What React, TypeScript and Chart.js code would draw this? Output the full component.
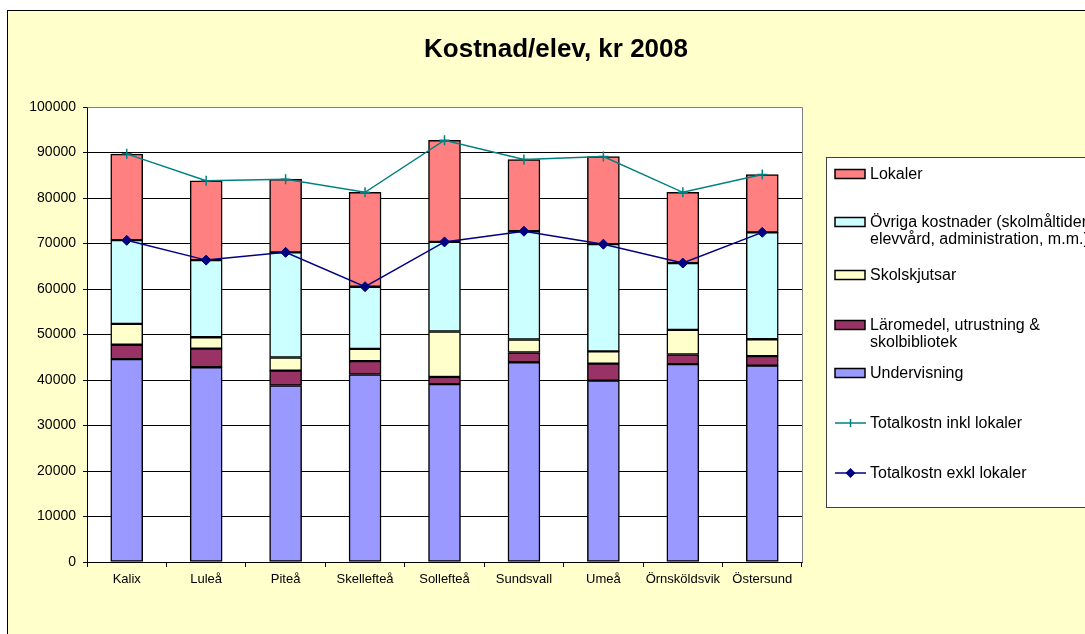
import React, { useEffect, useRef } from "react";
import { Chart, registerables } from "chart.js";

Chart.register(...registerables);

const FONT = "Arial, 'Liberation Sans', sans-serif";

const titleText = "Kostnad/elev, kr 2008";
const categories = ["Kalix", "Luleå", "Piteå", "Skellefteå", "Sollefteå", "Sundsvall", "Umeå", "Örnsköldsvik", "Östersund"];
const undervisning = [44600, 42800, 38800, 41200, 39100, 43900, 39850, 43500, 43150];
const laromedel = [3150, 4100, 3250, 2950, 1550, 2150, 3750, 2100, 2100];
const skolskjutsar = [4600, 2500, 2900, 2700, 10000, 2850, 2700, 5400, 3700];
const ovriga = [18400, 16950, 23100, 13650, 19700, 23800, 23550, 14700, 23500];
const lokaler = [18900, 17450, 16050, 20750, 22350, 15750, 19250, 15550, 12700];
const totalInkl = [89700, 83800, 84100, 81250, 92700, 88450, 89100, 81250, 85150];
const totalExkl = [70700, 66350, 68050, 60500, 70350, 72700, 69850, 65700, 72450];
const yMin = 0;
const yMax = 100000;
const yStep = 10000;

const labelLokaler = ["Lokaler"];
const labelOvriga = ["Övriga kostnader (skolmåltider,", "elevvård, administration, m.m.)"];
const labelSkolskjutsar = ["Skolskjutsar"];
const labelLaromedel = ["Läromedel, utrustning &", "skolbibliotek"];
const labelUndervisning = ["Undervisning"];
const labelInkl = ["Totalkostn inkl lokaler"];
const labelExkl = ["Totalkostn exkl lokaler"];

const C_LOK = "#FF8080";
const C_OVR = "#CCFFFF";
const C_SKJ = "#FFFFCC";
const C_LAR = "#993366";
const C_UND = "#9999FF";
const C_INKL = "#008080";
const C_EXKL = "#000080";

const legendItems = [
  { lines: labelLokaler, kind: "box", color: C_LOK, y: 174 },
  { lines: labelOvriga, kind: "box", color: C_OVR, y: 222 },
  { lines: labelSkolskjutsar, kind: "box", color: C_SKJ, y: 275 },
  { lines: labelLaromedel, kind: "box", color: C_LAR, y: 325 },
  { lines: labelUndervisning, kind: "box", color: C_UND, y: 373 },
  { lines: labelInkl, kind: "cross", color: C_INKL, y: 423 },
  { lines: labelExkl, kind: "diamond", color: C_EXKL, y: 473 },
];

const framePlugin = {
  id: "frame",
  beforeDraw(chart: any) {
    const ctx = chart.ctx;
    const { width, height } = chart;
    ctx.save();
    ctx.fillStyle = "#FFFFFF";
    ctx.fillRect(0, 0, width, height);
    ctx.fillStyle = "#FFFFCC";
    ctx.fillRect(7, 10, width + 10, height + 10);
    ctx.strokeStyle = "#000000";
    ctx.lineWidth = 1;
    ctx.strokeRect(7.5, 10.5, width + 10, height + 10);
    const a = chart.chartArea;
    ctx.fillStyle = "#FFFFFF";
    ctx.fillRect(a.left, a.top, a.right - a.left, a.bottom - a.top);
    ctx.restore();
  },
  beforeDatasetsDraw(chart: any) {
    const ctx = chart.ctx;
    const a = chart.chartArea;
    ctx.save();
    ctx.strokeStyle = "#808080";
    ctx.lineWidth = 1;
    ctx.beginPath();
    ctx.moveTo(Math.round(a.left) + 0.5, Math.round(a.top) + 0.5);
    ctx.lineTo(Math.round(a.right) + 0.5, Math.round(a.top) + 0.5);
    ctx.lineTo(Math.round(a.right) + 0.5, Math.round(a.bottom) + 0.5);
    ctx.stroke();
    ctx.restore();
  },
  afterDraw(chart: any) {
    const ctx = chart.ctx;
    ctx.save();
    ctx.fillStyle = "#000";
    ctx.font = `bold 26px ${FONT}`;
    ctx.textAlign = "center";
    ctx.textBaseline = "alphabetic";
    ctx.fillText(titleText, 556, 57);

    ctx.fillStyle = "#FFFFFF";
    ctx.fillRect(826, 157, 300, 350);
    ctx.strokeStyle = "#404040";
    ctx.lineWidth = 1;
    ctx.strokeRect(826.5, 157.5, 300, 350);

    ctx.font = `16px ${FONT}`;
    ctx.textAlign = "left";
    ctx.textBaseline = "middle";
    for (const it of legendItems) {
      const y = it.y;
      if (it.kind === "box") {
        ctx.fillStyle = it.color;
        ctx.fillRect(835, y - 4.5, 30, 9);
        ctx.strokeStyle = "#000";
        ctx.lineWidth = 1.5;
        ctx.strokeRect(835, y - 4.5, 30, 9);
      } else {
        ctx.strokeStyle = it.color;
        ctx.lineWidth = 1.5;
        ctx.beginPath();
        ctx.moveTo(835, y);
        ctx.lineTo(866, y);
        ctx.stroke();
        if (it.kind === "cross") {
          ctx.beginPath();
          ctx.moveTo(850.5, y - 4);
          ctx.lineTo(850.5, y + 4);
          ctx.stroke();
        } else {
          ctx.fillStyle = it.color;
          ctx.beginPath();
          ctx.moveTo(850.5, y - 5);
          ctx.lineTo(855.5, y);
          ctx.lineTo(850.5, y + 5);
          ctx.lineTo(845.5, y);
          ctx.closePath();
          ctx.fill();
        }
      }
      ctx.fillStyle = "#000";
      it.lines.forEach((ln, i) => ctx.fillText(ln, 870, y + 1 + i * 17));
    }
    ctx.restore();
  },
};

const barBase = {
  type: "bar" as const,
  borderColor: "#000000",
  borderWidth: 1.5,
  borderSkipped: false as const,
  barThickness: 32,
  stack: "bars",
  order: 2,
};

export default function App() {
  const ref = useRef<HTMLCanvasElement>(null);
  useEffect(() => {
    if (!ref.current) return;
    const chart = new Chart(ref.current, {
      type: "bar",
      data: {
        labels: categories,
        datasets: [
          { ...barBase, label: labelUndervisning.join(" "), data: undervisning, backgroundColor: C_UND },
          { ...barBase, label: labelLaromedel.join(" "), data: laromedel, backgroundColor: C_LAR },
          { ...barBase, label: labelSkolskjutsar.join(" "), data: skolskjutsar, backgroundColor: C_SKJ },
          { ...barBase, label: labelOvriga.join(" "), data: ovriga, backgroundColor: C_OVR },
          { ...barBase, label: labelLokaler.join(" "), data: lokaler, backgroundColor: C_LOK },
          {
            type: "line",
            label: labelInkl[0],
            data: totalInkl,
            stack: "inkl",
            order: 0,
            borderColor: C_INKL,
            borderWidth: 1.5,
            backgroundColor: C_INKL,
            pointStyle: "cross",
            pointRadius: 5,
            pointBorderWidth: 1.5,
            pointBorderColor: C_INKL,
            fill: false,
            tension: 0,
          } as any,
          {
            type: "line",
            label: labelExkl[0],
            data: totalExkl,
            stack: "exkl",
            order: 0,
            borderColor: C_EXKL,
            borderWidth: 1.5,
            backgroundColor: C_EXKL,
            pointStyle: "rectRot",
            pointRadius: 5,
            pointBorderWidth: 1,
            pointBorderColor: C_EXKL,
            fill: false,
            tension: 0,
          } as any,
        ],
      },
      options: {
        animation: false,
        responsive: false,
        devicePixelRatio: 1,
        layout: { padding: { left: 27, top: 107, right: 283, bottom: 42 } },
        plugins: {
          legend: { display: false },
          title: { display: false },
          tooltip: { enabled: false },
        },
        scales: {
          x: {
            stacked: true,
            grid: { offset: true, drawOnChartArea: false, drawTicks: true, tickLength: 5, color: "#000" },
            border: { color: "#000", width: 1 },
            ticks: { color: "#000", font: { family: FONT, size: 13 }, padding: 5, maxRotation: 0, autoSkip: false },
            afterFit: (s: any) => { s.height = 30; },
          },
          y: {
            stacked: true,
            min: yMin,
            max: yMax,
            ticks: {
              stepSize: yStep,
              color: "#000",
              font: { family: FONT, size: 14 },
              padding: 7,
              callback: (v: any) => String(v),
            },
            grid: {
              color: (c: any) => (c.tick && c.tick.value === yMax ? "#808080" : "#000"),
              tickColor: "#000",
              tickLength: 4,
              lineWidth: 1,
            },
            border: { color: "#000", width: 1 },
            afterFit: (s: any) => { s.width = 60; },
          },
        },
      } as any,
      plugins: [framePlugin],
    });
    return () => chart.destroy();
  }, []);
  return (
    <div style={{ position: "absolute", left: 0, top: 0, width: 1085, height: 634 }}>
      <canvas ref={ref} width={1085} height={634} style={{ display: "block" }} />
    </div>
  );
}
